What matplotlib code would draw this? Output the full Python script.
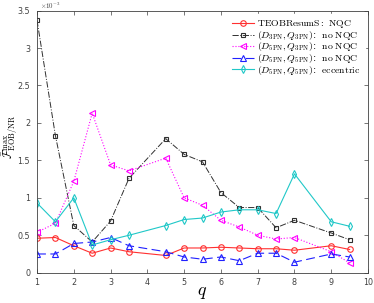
import matplotlib
matplotlib.use("Agg")
import matplotlib.pyplot as plt
from matplotlib.ticker import MultipleLocator

plt.rcParams["mathtext.fontset"] = "cm"
plt.rcParams["font.family"] = "DejaVu Sans"

# mass ratios (no run at q=4 and q=8.5)
q = [1, 1.5, 2, 2.5, 3, 3.5, 4.5, 5, 5.5, 6, 6.5, 7, 7.5, 8, 9, 9.5]

# max unfaithfulness, units of 1e-3
teob_nqc = [0.46, 0.47, 0.36, 0.26, 0.33, 0.28, 0.23, 0.33, 0.33, 0.34, 0.33, 0.32, 0.32, 0.30, 0.36, 0.31]
d3_q3_nonqc = [3.37, 1.83, 0.63, 0.41, 0.69, 1.26, 1.79, 1.58, 1.48, 1.07, 0.87, 0.87, 0.60, 0.70, 0.53, 0.44]
d5_q3_nonqc = [0.54, 0.66, 1.22, 2.13, 1.44, 1.36, 1.53, 1.00, 0.90, 0.70, 0.61, 0.50, 0.45, 0.47, 0.28, 0.13]
d5_q5_nonqc = [0.25, 0.25, 0.39, 0.41, 0.47, 0.36, 0.28, 0.21, 0.18, 0.21, 0.16, 0.26, 0.26, 0.14, 0.25, 0.21]
d5_q5_ecc = [0.93, 0.68, 1.00, 0.37, 0.44, 0.50, 0.63, 0.71, 0.73, 0.81, 0.84, 0.84, 0.79, 1.32, 0.68, 0.62]

labels = [
    r"$\mathrm{TEOBResumS{:}\ NQC}$",
    r"$(D_{\rm 3PN}, Q_{\rm 3PN})$:  $\mathrm{no\ NQC}$",
    r"$(D_{\rm 5PN}, Q_{\rm 3PN})$:  $\mathrm{no\ NQC}$",
    r"$(D_{\rm 5PN}, Q_{\rm 5PN})$:  $\mathrm{no\ NQC}$",
    r"$(D_{\rm 5PN}, Q_{\rm 5PN})$:  $\mathrm{eccentric}$",
]

fig = plt.figure(figsize=(3.74, 3.03), dpi=100)
ax = fig.add_axes([0.099, 0.1, 0.885, 0.865])

s = 1e-3
kw = dict(markersize=4, fillstyle="none", linewidth=0.8, markeredgewidth=0.8)
ax.plot(q, [v * s for v in teob_nqc], color="#ff3030", linestyle="-", marker="o", label=labels[0], **kw)
ax.plot(q, [v * s for v in d3_q3_nonqc], color="#303030", linestyle="-.", marker="s",
        label=labels[1], markersize=3, fillstyle="none", linewidth=0.7, markeredgewidth=0.8)
ax.plot(q, [v * s for v in d5_q3_nonqc], color="#ff00ff", linestyle=":", marker="<", label=labels[2], **kw)
ax.plot(q, [v * s for v in d5_q5_nonqc], color="#2020ff", linestyle=(0, (8, 4)), marker="^", label=labels[3], **kw)
ax.plot(q, [v * s for v in d5_q5_ecc], color="#20c8c8", linestyle="-", marker="d", label=labels[4], **kw)

ax.set_xlim(1, 10)
ax.set_ylim(0, 3.5e-3)
ax.xaxis.set_major_locator(MultipleLocator(1))
ax.set_yticks([i * 0.5e-3 for i in range(8)])
ax.set_yticklabels(["0", "0.5", "1", "1.5", "2", "2.5", "3", "3.5"])
ax.text(0.01, 1.0, r"$\times 10^{-3}$", transform=ax.transAxes, fontsize=5,
        color="#404040", ha="left", va="bottom")

ax.tick_params(direction="in", top=True, right=True, labelsize=5.8,
               colors="#404040", length=3, width=0.5, pad=4)
ax.tick_params(axis="y", pad=5)
for sp in ax.spines.values():
    sp.set_linewidth(0.6)
    sp.set_color("#404040")

ax.set_xlabel(r"$q$", fontsize=13)
ax.xaxis.set_label_coords(0.5, -0.04)
ax.set_ylabel(r"$\bar{\mathcal{F}}^{\max}_{\rm EOB/NR}$", fontsize=8.3)
ax.yaxis.set_label_coords(-0.052, 0.52)

leg = ax.legend(loc="upper right", fontsize=7, frameon=True, fancybox=False,
                edgecolor="white", framealpha=1.0, handlelength=2.2,
                handletextpad=0.3, labelspacing=-0.15, borderaxespad=0.3,
                borderpad=0.5)

fig.savefig("out.png", dpi=100)
